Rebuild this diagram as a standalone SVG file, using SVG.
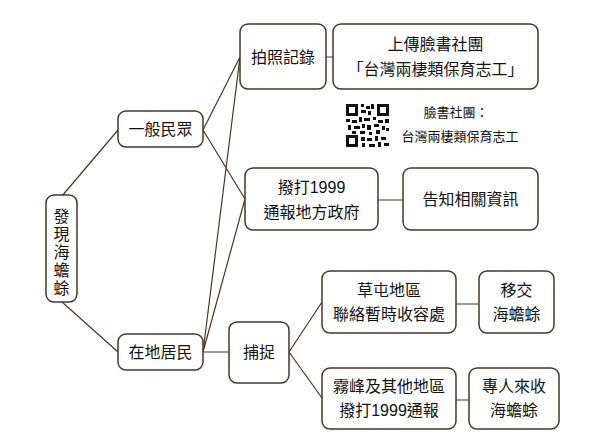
<svg xmlns="http://www.w3.org/2000/svg" width="600" height="439" viewBox="0 0 600 439">
<style>
.n{fill:#fff;stroke:#4a3526;stroke-width:1.5}
.t{font-family:"Liberation Sans","Noto Sans CJK TC",sans-serif;font-size:16px;fill:#111;text-anchor:middle}
.s{font-size:13px}
.c{stroke:#4a3526;stroke-width:1.2;fill:none}
</style>
<rect width="600" height="439" fill="#fff"/>
<g id="connectors">
<path class="c" d="M62 196L118 130M62 302L118 352M203 130L240 57M203 130L245 199M203 352L240 57M203 352L245 199M203 352H229M289 352L322 302M289 352L322 398M326 57H333M378 200H403M456 304H479M456 400H469"/>
</g>
<g id="root"><rect class="n" x="46" y="195" width="31" height="107" rx="8"/><text class="t" x="61.5" y="222">發</text><text class="t" x="61.5" y="240">現</text><text class="t" x="61.5" y="258">海</text><text class="t" x="61.5" y="276">蟾</text><text class="t" x="61.5" y="294">蜍</text></g>
<g id="n1"><rect class="n" x="118" y="111" width="85" height="36" rx="8"/><text class="t" x="160.5" y="135">一般民眾</text></g>
<g id="n2"><rect class="n" x="118" y="334" width="85" height="36" rx="8"/><text class="t" x="160.5" y="358">在地居民</text></g>
<g id="n3"><rect class="n" x="240" y="24" width="86" height="65" rx="8"/><text class="t" x="283" y="63">拍照記錄</text></g>
<g id="n4"><rect class="n" x="333" y="24" width="205" height="65" rx="8"/><text class="t" x="435.5" y="50">上傳臉書社團</text><text class="t" x="435.5" y="75">「台灣兩棲類保育志工」</text></g>
<g id="n5"><rect class="n" x="245" y="168" width="133" height="62" rx="8"/><text class="t" x="311.5" y="193">撥打1999</text><text class="t" x="311.5" y="218">通報地方政府</text></g>
<g id="n6"><rect class="n" x="403" y="168" width="135" height="62" rx="8"/><text class="t" x="470.5" y="205">告知相關資訊</text></g>
<g id="n7"><rect class="n" x="229" y="322" width="60" height="61" rx="8"/><text class="t" x="259" y="358">捕捉</text></g>
<g id="n8"><rect class="n" x="322" y="271" width="134" height="62" rx="8"/><text class="t" x="389" y="296">草屯地區</text><text class="t" x="389" y="320">聯絡暫時收容處</text></g>
<g id="n9"><rect class="n" x="479" y="271" width="75" height="62" rx="8"/><text class="t" x="516.5" y="296">移交</text><text class="t" x="516.5" y="320">海蟾蜍</text></g>
<g id="n10"><rect class="n" x="322" y="368" width="134" height="61" rx="8"/><text class="t" x="389" y="392">霧峰及其他地區</text><text class="t" x="389" y="416">撥打1999通報</text></g>
<g id="n11"><rect class="n" x="469" y="368" width="90" height="61" rx="8"/><text class="t" x="514" y="392">專人來收</text><text class="t" x="514" y="416">海蟾蜍</text></g>
<g id="qr" fill="#111">
<rect x="346" y="104" width="43" height="43" fill="#fff"/>
<path d="M346 104h12v12h-12zM349 107v6h6v-6zM377 104h12v12h-12zM380 107v6h6v-6zM346 135h12v12h-12zM349 138v6h6v-6z" fill-rule="evenodd"/>
<path d="M361 104h3v3h-3zM366 106h4v3h-4zM371 104h3v5h-3zM361 110h5v3h-5zM368 111h3v4h-3zM346 119h4v3h-4zM352 120h5v3h-5zM359 117h3v5h-3zM364 118h6v3h-6zM373 117h3v3h-3zM378 120h5v3h-5zM385 119h4v4h-4zM348 125h3v5h-3zM354 126h6v3h-6zM362 124h3v4h-3zM367 125h4v5h-4zM374 124h5v3h-5zM382 126h3v4h-3zM386 128h3v3h-3zM352 131h4v3h-4zM360 131h5v3h-5zM369 132h3v3h-3zM376 130h4v4h-4zM361 137h4v4h-4zM367 138h5v3h-5zM375 136h3v5h-3zM381 137h5v3h-5zM362 143h3v4h-3zM369 144h6v3h-6zM378 142h3v5h-3zM384 143h5v3h-5z"/>
</g>
<text class="t s" x="456" y="117">臉書社團：</text>
<text class="t s" x="460" y="141">台灣兩棲類保育志工</text>
</svg>
